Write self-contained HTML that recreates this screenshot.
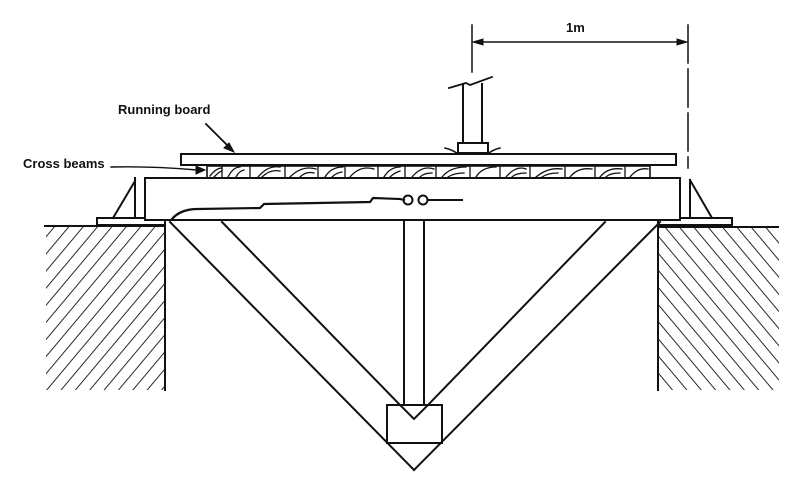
<!DOCTYPE html>
<html><head><meta charset="utf-8"><style>
html,body{margin:0;padding:0;background:#fff;width:800px;height:481px;overflow:hidden}
svg{display:block}
text{font-family:"Liberation Sans",sans-serif;font-weight:bold;fill:#111}
</style></head><body>
<svg width="800" height="481" viewBox="0 0 800 481" xmlns="http://www.w3.org/2000/svg">
<defs>
<pattern id="h" patternUnits="userSpaceOnUse" width="11" height="11" patternTransform="rotate(40)">
<line x1="0" y1="0" x2="0" y2="11" stroke="#111" stroke-width="1.8"/>
</pattern>
<pattern id="h2" patternUnits="userSpaceOnUse" width="11" height="11" patternTransform="rotate(-40)">
<line x1="0" y1="0" x2="0" y2="11" stroke="#111" stroke-width="1.8"/>
</pattern>
</defs>
<g stroke="#111" stroke-width="2" fill="none" stroke-linecap="square">
<!-- ground -->
<rect x="46" y="227" width="119" height="163" fill="url(#h)" stroke="none"/>
<line x1="45" y1="226" x2="165" y2="226"/>
<line x1="165" y1="226" x2="165" y2="390"/>
<rect x="659" y="228" width="120" height="162" fill="url(#h2)" stroke="none"/>
<line x1="658" y1="227" x2="778" y2="227"/>
<line x1="658" y1="227" x2="658" y2="390"/>
<!-- base plates and supports -->
<rect x="97" y="218" width="68" height="7" fill="#fff"/>
<rect x="658" y="218" width="74" height="7" fill="#fff"/>
<line x1="135" y1="178" x2="135" y2="218"/>
<line x1="113" y1="218" x2="135" y2="181"/>
<line x1="690" y1="180" x2="690" y2="218"/>
<line x1="690" y1="180" x2="712" y2="218"/>
<!-- deck -->
<rect x="145" y="178" width="535" height="42" fill="#fff"/>
<!-- cross beams -->
<rect x="207" y="166" width="443" height="12" stroke-width="1.6"/>
<g stroke-width="1.3">
<path d="M222 178 v-12 M250 178 v-12 M285 178 v-12 M318 178 v-12 M345 178 v-12 M378 178 v-12 M405 178 v-12 M436 178 v-12 M470 178 v-12 M500 178 v-12 M530 178 v-12 M565 178 v-12 M595 178 v-12 M625 178 v-12"/>
<path d="M210 176 q6-8 12-8 M214 177 q6-6 8-6 M228 177 q5-10 12-10 M236 177 q3-6 8-7 M258 177 q10-12 22-10 M262 177 q8-8 18-6 M290 177 q12-12 26-8 M300 177 q6-6 14-4 M325 177 q6-10 18-10 M332 177 q4-4 10-5 M350 177 q10-12 24-8 M384 177 q6-10 16-10 M390 177 q4-4 10-6 M412 177 q10-12 22-8 M420 177 q4-4 12-4 M442 177 q8-10 24-10 M448 177 q6-4 16-4 M476 177 q6-10 20-10 M506 177 q10-12 20-8 M512 177 q4-4 14-4 M536 177 q12-10 26-8 M542 177 q6-4 16-4 M570 177 q8-10 22-8 M600 177 q8-10 22-8 M606 177 q4-4 14-4 M630 177 q8-10 18-8"/>
</g>
<path d="M205 170 l-9 -4 l0 8 z" fill="#111" stroke-width="1"/>
<!-- running board -->
<rect x="181" y="154" width="495" height="11" fill="#fff"/>
<!-- wire -->
<path d="M172 219 q8-10 26-10 l62 -1 l4-4 l106 -2 l3-4 l27 1" stroke-width="2.2"/>
<circle cx="408" cy="200" r="4.5" fill="#fff"/>
<circle cx="423" cy="200" r="4.5" fill="#fff"/>
<line x1="400" y1="199" x2="404" y2="200"/>
<line x1="428" y1="200" x2="462" y2="200"/>
<!-- truss -->
<line x1="170" y1="222" x2="414" y2="470"/>
<line x1="660" y1="222" x2="414" y2="470"/>
<line x1="222" y1="222" x2="400" y2="405"/>
<line x1="605" y1="222" x2="428" y2="405"/>
<line x1="404" y1="222" x2="404" y2="405"/>
<line x1="424" y1="222" x2="424" y2="405"/>
<rect x="387" y="405" width="55" height="38"/>
<polyline points="400,405 414,419 428,405"/>
<!-- post -->
<line x1="463" y1="84" x2="463" y2="144"/>
<line x1="482" y1="84" x2="482" y2="144"/>
<path d="M449 88 l17-5 l4 2 l22-8" stroke-width="1.8"/>
<rect x="458" y="143" width="30" height="10" fill="#fff"/>
<path d="M445 148 q8 2 13 6 M500 148 q-8 2 -12 6" stroke-width="1.5"/>
<!-- dimension -->
<line x1="472" y1="25" x2="472" y2="72" stroke-width="1.5"/>
<line x1="688" y1="25" x2="688" y2="168" stroke-width="1.5" stroke-dasharray="38 6"/>
<line x1="480" y1="42" x2="680" y2="42" stroke-width="1.5"/>
<path d="M473 42 l10-3 v6 z M687 42 l-10-3 v6 z" fill="#111" stroke-width="1"/>
<!-- leaders -->
<line x1="206" y1="124" x2="230" y2="148" stroke-width="1.8"/>
<path d="M234 152 l-10-4 l5-5 z" fill="#111" stroke-width="1"/>
<path d="M111 167 q40 -1 86 3" stroke-width="1.4"/>
</g>
<text x="118" y="114" font-size="13">Running board</text>
<text x="23" y="168" font-size="13">Cross beams</text>
<text x="566" y="32" font-size="13">1m</text>
</svg>
</body></html>
